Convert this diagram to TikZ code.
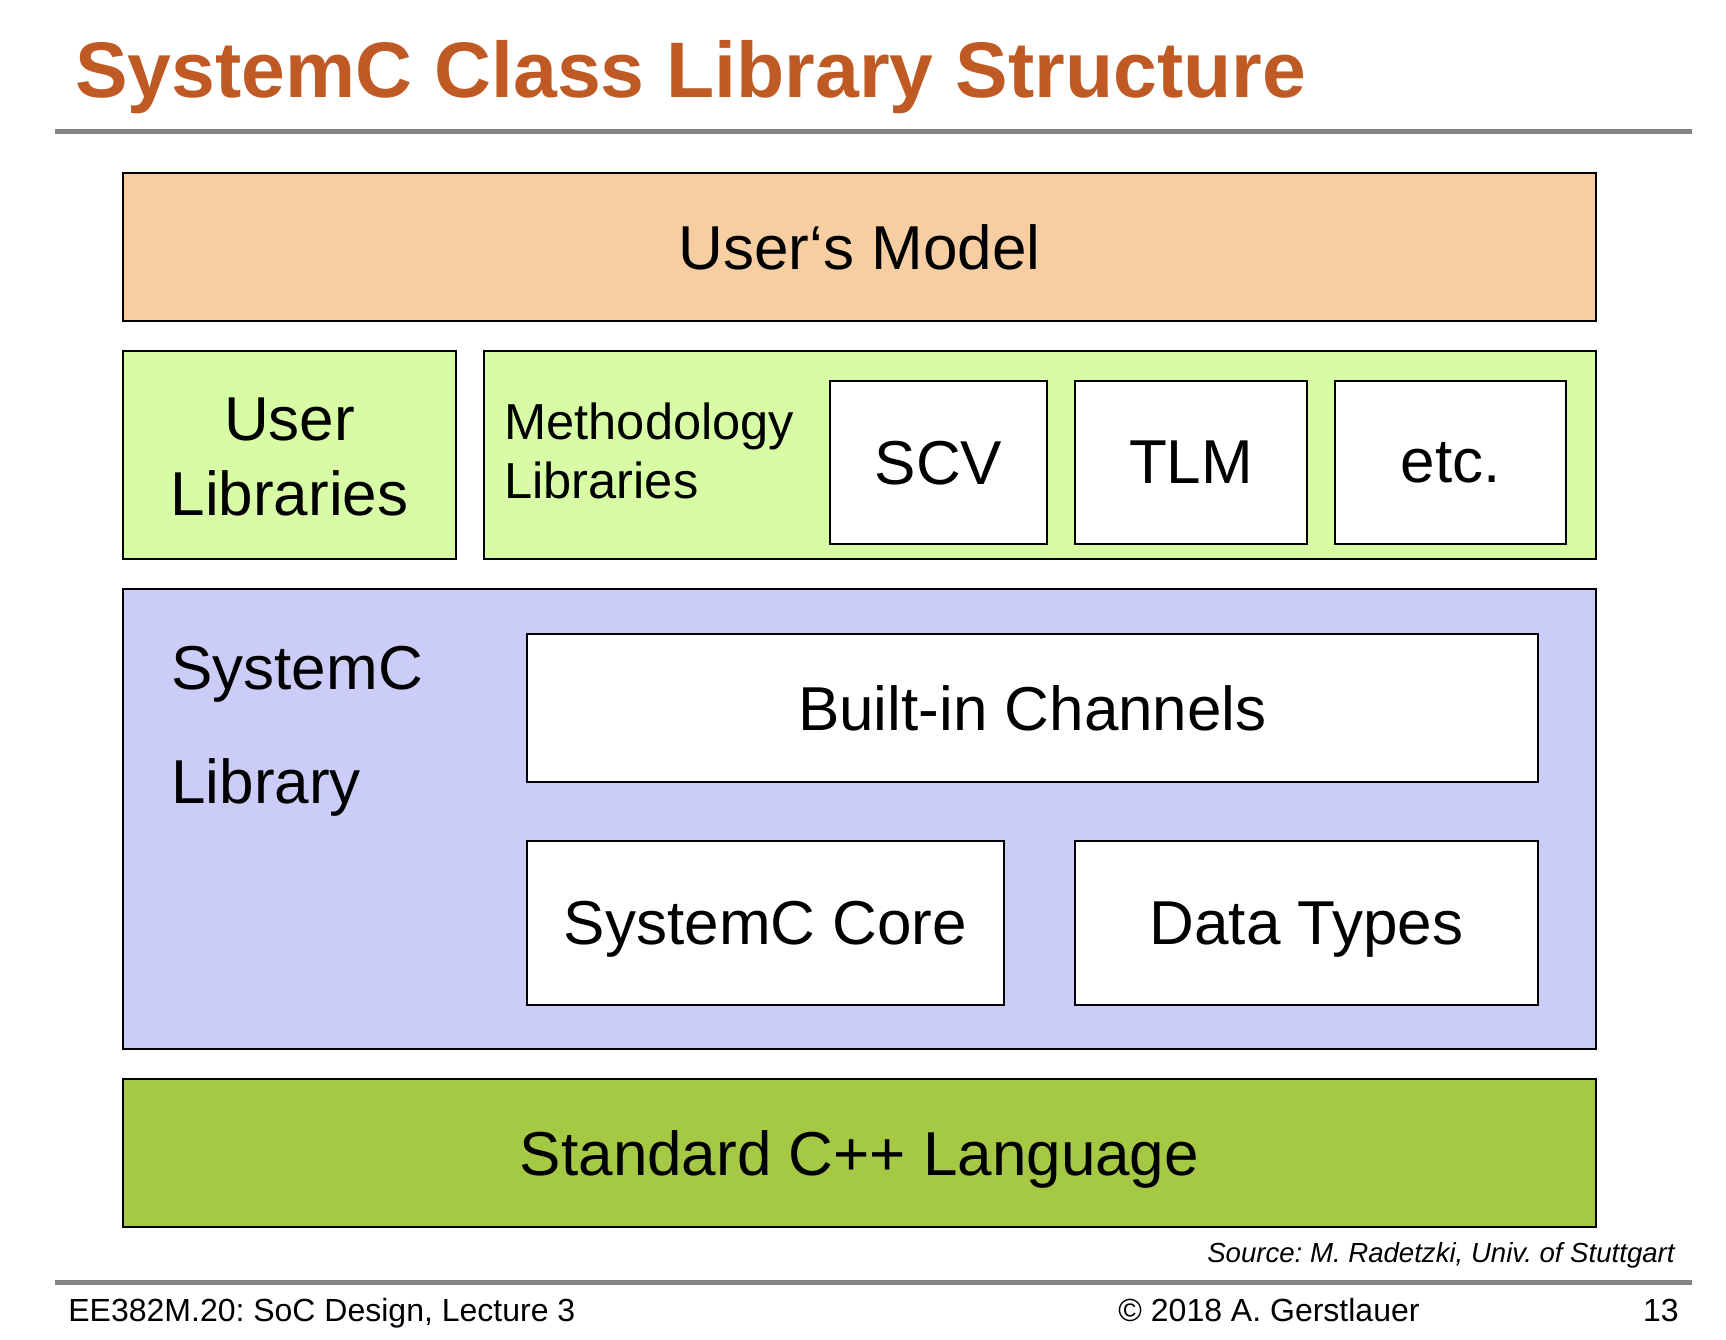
\documentclass[tikz,border=0pt]{standalone}
\usepackage{fontspec}
\setmainfont{Liberation Sans}
\frenchspacing
\definecolor{TitleRust}{HTML}{C05A24}
\definecolor{Peach}{HTML}{F6CEA2}
\definecolor{LightGreen}{HTML}{D7FCA5}
\definecolor{Lavender}{HTML}{CCCCF8}
\definecolor{OliveGreen}{HTML}{A5C944}
\definecolor{RuleGray}{HTML}{858585}

\begin{document}
\begin{tikzpicture}[x=0.5pt,y=-0.5pt,
  layer/.style={draw=black,line width=0.8pt,inner sep=0pt,text depth=0pt,align=center,
    font=\fontsize{31}{37.5}\selectfont},
  sub/.style={layer,fill=white},
  label/.style={inner sep=0pt,align=left}]
\useasboundingbox[fill=white] (0,0) rectangle (1726,1340);

\node[anchor=base west,inner sep=0pt,text=TitleRust,font=\fontsize{39.4}{45}\selectfont\bfseries] (title) at (75,97) {SystemC Class Library Structure};
\draw[RuleGray,line width=2.5pt] (55,131) -- (1692,131);

\node[layer,fill=Peach,minimum width=736.5pt,minimum height=74pt] (model) at (859.5,247) {User‘s Model};

\node[layer,fill=LightGreen,minimum width=166.5pt,minimum height=104pt] (userlib) at (289.5,455) {};
\node[label,align=center,font=\fontsize{31}{37.5}\selectfont] (userlibtxt) at (289.5,457) {User\\Libraries};
\node[layer,fill=LightGreen,minimum width=556pt,minimum height=104pt] (methlib) at (1040,455) {};
\node[label,anchor=north west,font=\fontsize{25.3}{29.5}\selectfont] (methtxt) at (504,402) {Methodology\\Libraries};
\node[sub,minimum width=108.5pt,minimum height=81.5pt] (scv) at (938.5,462.5) {SCV};
\node[sub,minimum width=116pt,minimum height=81.5pt] (tlm) at (1191,462.5) {TLM};
\node[sub,minimum width=115.5pt,minimum height=81.5pt] (etc) at (1450.5,462.5) {etc.};

\node[layer,fill=Lavender,minimum width=736.5pt,minimum height=230pt] (syslib) at (859.5,819) {};
\node[label,anchor=north west,font=\fontsize{31}{57}\selectfont] (syslibtxt) at (171,646) {SystemC\\Library};
\node[sub,minimum width=505.5pt,minimum height=74pt] (chan) at (1032.5,708) {Built-in Channels};
\node[sub,minimum width=238.5pt,minimum height=82pt] (core) at (765.5,923) {SystemC Core};
\node[sub,minimum width=231.5pt,minimum height=82pt] (types) at (1306.5,923) {Data Types};

\node[layer,fill=OliveGreen,minimum width=736.5pt,minimum height=74pt] (cpp) at (859.5,1153) {Standard C++ Language};

\node[anchor=base east,inner sep=0pt,font=\fontsize{13.8}{16}\selectfont\itshape] (source) at (1675,1262) {Source: M. Radetzki, Univ. of Stuttgart};
\draw[RuleGray,line width=2.5pt] (55,1282) -- (1692,1282);
\node[anchor=base west,inner sep=0pt,font=\fontsize{16}{19}\selectfont] (course) at (68,1321) {EE382M.20: SoC Design, Lecture 3};
\node[anchor=base,inner sep=0pt,font=\fontsize{16}{19}\selectfont] (copy) at (1269,1321) {© 2018 A. Gerstlauer};
\node[anchor=base east,inner sep=0pt,font=\fontsize{16}{19}\selectfont] (page) at (1679,1321) {13};
\end{tikzpicture}
\end{document}
